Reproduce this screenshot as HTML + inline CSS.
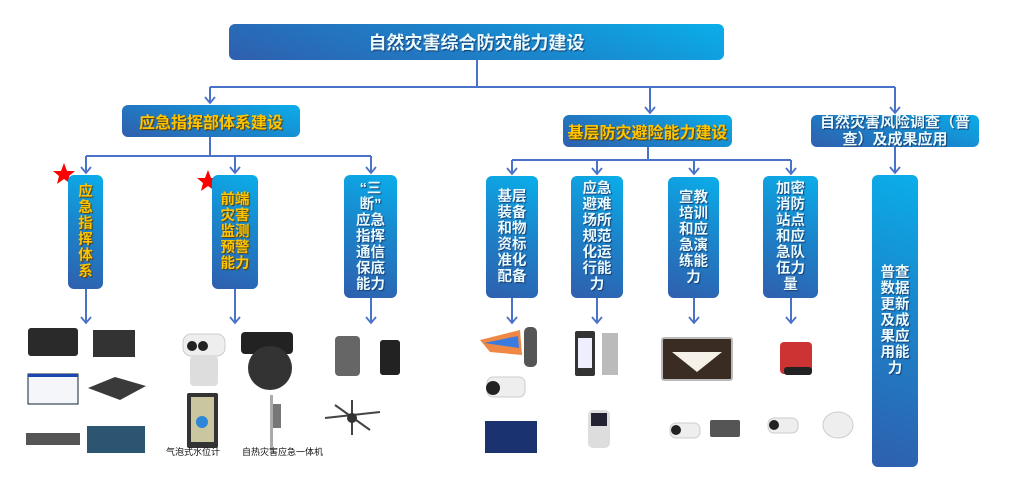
<!DOCTYPE html>
<html><head><meta charset="utf-8"><style>
body{margin:0;width:1024px;height:482px;background:#fff;position:relative;overflow:hidden;font-family:"Liberation Sans","Noto Sans CJK SC",sans-serif;}
.b{position:absolute;border-radius:6px;background:linear-gradient(20deg,#2f5fae 0%,#1a86cc 55%,#0aaeea 100%);color:#e8fbff;font-weight:bold;display:flex;align-items:center;justify-content:center;text-align:center;text-shadow:1px 1px 1px #1b3c70;box-sizing:border-box;}
.y{color:#ffc400;text-shadow:1px 1px 1px #5a3a00;}
.v{font-size:14.5px;line-height:16px;padding:0 3px;}
svg{position:absolute;left:0;top:0;}
</style></head><body>
<svg width="1024" height="482">
<g stroke="#4a72c8" stroke-width="2" fill="none">
<path d="M477,60 V87 M210,87 H895"/>
<path d="M210,87 V103 M650,87 V113 M895,87 V113"/>
<path d="M210,137 V156 M86,156 H371 M86,156 V173 M235,156 V173 M371,156 V173"/>
<path d="M648,147 V160 M512,160 H791 M512,160 V174 M597,160 V174 M694,160 V174 M791,160 V174"/>
<path d="M895,147 V173"/>
<path d="M86,289 V323 M235,289 V323 M371,298 V323 M512,298 V323 M597,298 V323 M694,298 V323 M791,298 V323"/>
</g>
<g stroke="#4a72c8" stroke-width="1.8" fill="none">
<path d="M205,97 L210,103 L215,97"/>
<path d="M645,107 L650,113 L655,107"/>
<path d="M890,107 L895,113 L900,107"/>
<path d="M81,167 L86,173 L91,167"/><path d="M230,167 L235,173 L240,167"/><path d="M366,167 L371,173 L376,167"/>
<path d="M507,168 L512,174 L517,168"/><path d="M592,168 L597,174 L602,168"/><path d="M689,168 L694,174 L699,168"/><path d="M786,168 L791,174 L796,168"/>
<path d="M890,167 L895,173 L900,167"/>
<path d="M81,317 L86,323 L91,317"/><path d="M230,317 L235,323 L240,317"/><path d="M366,317 L371,323 L376,317"/>
<path d="M507,317 L512,323 L517,317"/><path d="M592,317 L597,323 L602,317"/><path d="M689,317 L694,323 L699,317"/><path d="M786,317 L791,323 L796,317"/>
</g>
<g fill="#f00"><polygon points="64,163 67,171 75,171 69,176 71,184 64,179 57,184 59,176 53,171 61,171"/>
<polygon points="208,170 211,178 219,178 213,183 215,191 208,186 201,191 203,183 197,178 205,178"/></g>
<g>
<rect x="28" y="328" width="50" height="28" rx="3" fill="#2a2a2a"/>
<rect x="93" y="330" width="42" height="27" fill="#333"/>
<rect x="28" y="374" width="50" height="30" fill="#f4f6fa" stroke="#123" stroke-width="1"/>
<rect x="28" y="374" width="50" height="3" fill="#1a47b0"/>
<path d="M88,388 L115,377 L146,386 L120,400 Z" fill="#3a3a3a"/>
<rect x="26" y="433" width="54" height="12" fill="#555"/>
<rect x="87" y="426" width="58" height="27" fill="#2b5570"/>
<rect x="183" y="334" width="42" height="22" rx="8" fill="#eee" stroke="#ccc"/>
<circle cx="192" cy="346" r="5" fill="#222"/><circle cx="203" cy="346" r="5" fill="#222"/>
<rect x="190" y="356" width="28" height="30" rx="4" fill="#ddd"/>
<rect x="241" y="332" width="52" height="22" rx="4" fill="#222"/>
<ellipse cx="270" cy="368" rx="22" ry="22" fill="#333"/>
<rect x="187" y="393" width="31" height="55" rx="2" fill="#333"/>
<rect x="191" y="397" width="23" height="45" fill="#c9c6a0"/>
<circle cx="202" cy="422" r="6" fill="#2d86d8"/>
<rect x="270" y="395" width="3" height="56" fill="#aaa"/>
<rect x="273" y="404" width="8" height="24" fill="#777"/>
<rect x="335" y="336" width="25" height="40" rx="4" fill="#666"/>
<rect x="380" y="340" width="20" height="35" rx="3" fill="#222"/>
<path d="M325,418 L380,412 M335,405 L370,430 M352,400 L352,435" stroke="#444" stroke-width="2"/>
<circle cx="352" cy="418" r="5" fill="#333"/>
<path d="M480,340 L520,330 L522,355 L490,352 Z" fill="#e84"/>
<path d="M484,343 L518,336 L519,348 Z" fill="#3a7be0"/>
<rect x="524" y="327" width="13" height="40" rx="5" fill="#555"/>
<rect x="487" y="377" width="38" height="20" rx="6" fill="#eee" stroke="#ccc"/>
<circle cx="493" cy="388" r="7" fill="#222"/>
<rect x="485" y="421" width="52" height="32" fill="#1a3270"/>
<rect x="575" y="331" width="20" height="45" rx="2" fill="#333"/>
<rect x="578" y="338" width="14" height="30" fill="#eef"/>
<rect x="602" y="333" width="16" height="42" fill="#bbb"/>
<rect x="588" y="410" width="22" height="38" rx="5" fill="#ddd"/>
<rect x="591" y="413" width="16" height="13" fill="#223"/>
<rect x="662" y="338" width="70" height="42" rx="2" fill="#3a2c22" stroke="#bbb" stroke-width="2"/>
<path d="M672,352 L722,352 L697,372 Z" fill="#f5f0e8"/>
<rect x="670" y="423" width="30" height="15" rx="6" fill="#eee" stroke="#ccc"/>
<circle cx="676" cy="430" r="5" fill="#222"/>
<rect x="710" y="420" width="30" height="17" rx="2" fill="#555"/>
<rect x="780" y="342" width="32" height="32" rx="4" fill="#c33"/>
<rect x="784" y="367" width="28" height="8" rx="3" fill="#222"/>
<rect x="768" y="418" width="30" height="15" rx="6" fill="#eee" stroke="#ccc"/>
<circle cx="774" cy="425" r="5" fill="#222"/>
<ellipse cx="838" cy="425" rx="15" ry="13" fill="#eee" stroke="#ccc"/>
</g>
<g font-size="9" fill="#111" font-family="Liberation Sans,Noto Sans CJK SC,sans-serif">
<text x="166" y="455">气泡式水位计</text><text x="242" y="455">自热灾害应急一体机</text>
</g>
</svg>
<div class="b" style="left:229px;top:24px;width:495px;height:36px;font-size:18px;">自然灾害综合防灾能力建设</div>
<div class="b y" style="left:122px;top:105px;width:178px;height:32px;font-size:16px;">应急指挥部体系建设</div>
<div class="b y" style="left:563px;top:115px;width:169px;height:32px;font-size:16px;">基层防灾避险能力建设</div>
<div class="b" style="left:811px;top:115px;width:168px;height:32px;font-size:15px;line-height:17px;padding:0 8px;">自然灾害风险调查（普查）及成果应用</div>
<div class="b y v" style="left:68px;top:175px;width:35px;height:114px;">应<br>急<br>指<br>挥<br>体<br>系</div>
<div class="b y v" style="left:212px;top:175px;width:46px;height:114px;">前端<br>灾害<br>监测<br>预警<br>能力</div>
<div class="b v" style="left:344px;top:175px;width:53px;height:123px;">“三<br>断”<br>应急<br>指挥<br>通信<br>保底<br>能力</div>
<div class="b v" style="left:486px;top:176px;width:52px;height:122px;">基层<br>装备<br>和物<br>资标<br>准化<br>配备</div>
<div class="b v" style="left:571px;top:176px;width:52px;height:122px;">应急<br>避难<br>场所<br>规范<br>化运<br>行能<br>力</div>
<div class="b v" style="left:668px;top:177px;width:51px;height:121px;">宣教<br>培训<br>和应<br>急演<br>练能<br>力</div>
<div class="b v" style="left:763px;top:176px;width:55px;height:122px;">加密<br>消防<br>站点<br>和应<br>急队<br>伍力<br>量</div>
<div class="b v" style="left:872px;top:175px;width:46px;height:292px;">普查<br>数据<br>更新<br>及成<br>果应<br>用能<br>力</div>
</body></html>
